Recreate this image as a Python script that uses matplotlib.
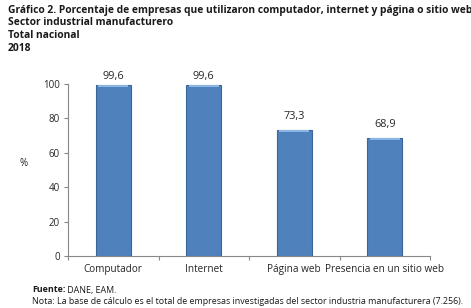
import numpy as np
import matplotlib as mpl
mpl.use('Agg')
import matplotlib.pyplot as plt

plt.rcParams['font.family'] = ['Open Sans', 'DejaVu Sans']

categories = ['Computador', 'Internet', 'Página web', 'Presencia en un sitio web']
values = [99.6, 99.6, 73.3, 68.9]
yticks = [0, 20, 40, 60, 80, 100]

fig = plt.figure(figsize=(4.71, 3.08), dpi=100)
ax = fig.add_axes([0.1444, 0.169, 0.7686, 0.558])

x = np.arange(len(categories))
ax.bar(x, values, width=0.39, color='#4F81BD', edgecolor='#3A6599', linewidth=0.8, zorder=2)
# light top bevel
ax.bar(x, [1.2] * len(values), bottom=np.array(values) - 1.2, width=0.33,
       color='#8DB3E2', linewidth=0, zorder=3)

# labels above bars (pushed down when near the top, like excel does)
for xi, v in zip(x, values):
    ax.text(xi, min(v + 4.5, 101), ('%.1f' % v).replace('.', ','), ha='center', va='bottom',
            fontsize=7.8, color='#262626', clip_on=False)

ax.set_xlim(-0.5, len(categories) - 0.5)
ax.set_ylim(0, 100)
ax.set_yticks(yticks)
ax.set_yticklabels(yticks, fontsize=7, color='#262626')
ax.set_xticks(np.arange(len(categories) + 1) - 0.5)
ax.set_xticklabels([])
ax.set_xticks(x, minor=True)
ax.set_xticklabels(categories, minor=True, fontsize=7.2, color='#262626')
ax.tick_params(axis='x', which='minor', length=0, pad=6)
ax.tick_params(axis='x', which='major', length=3, color='#888888', direction='out')
ax.tick_params(axis='y', length=3, color='#888888', pad=3)
for s in ['top', 'right']:
    ax.spines[s].set_visible(False)
for s in ['left', 'bottom']:
    ax.spines[s].set_color('#888888')
    ax.spines[s].set_linewidth(0.8)

fig.text(24 / 471, 1 - 163 / 308, '%', fontsize=7, ha='center', va='center', color='#262626')

title_lines = ['Gráfico 2. Porcentaje de empresas que utilizaron computador, internet y página o sitio web',
               'Sector industrial manufacturero',
               'Total nacional',
               '2018']
for i, t in enumerate(title_lines):
    fig.text(8 / 471, 1 - (10 + 12.7 * i) / 308, t, fontsize=7.4, fontweight='bold',
             ha='left', va='center', color='#1a1a1a')

fuente = fig.text(32 / 471, 1 - 290 / 308, 'Fuente:', fontsize=6.4, fontweight='bold',
                  ha='left', va='center', color='#1a1a1a')
ax.annotate(' DANE, EAM.', xy=(1, 0.5), xycoords=fuente, ha='left', va='center',
            fontsize=6.4, color='#1a1a1a', annotation_clip=False)
fig.text(32 / 471, 1 - 301 / 308,
         'Nota: La base de cálculo es el total de empresas investigadas del sector industria manufacturera (7.256).',
         fontsize=6.4, ha='left', va='center', color='#1a1a1a')

fig.savefig('out.png', dpi=100)
